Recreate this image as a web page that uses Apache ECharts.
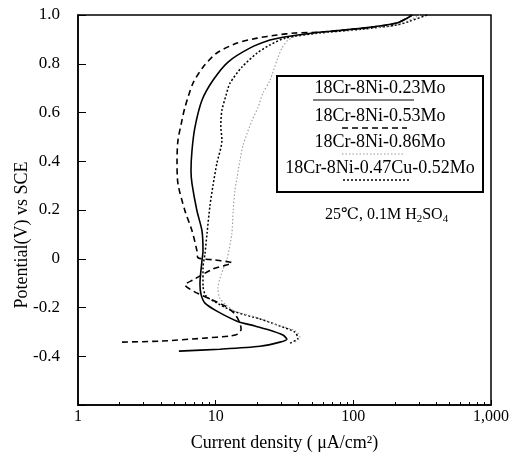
<!DOCTYPE html>
<html>
<head>
<meta charset="utf-8">
<script src="https://cdn.jsdelivr.net/npm/echarts@6/dist/echarts.min.js"></script>
<style>
  html, body { margin: 0; padding: 0; background: #fff; }
  #chart { width: 517px; height: 465px; }
</style>
</head>
<body>
<div id="chart"></div>
<script>
// Anodic polarization curves of 18Cr-8Ni stainless steels, 25℃, 0.1M H2SO4
const seriesNames = ['18Cr-8Ni-0.23Mo', '18Cr-8Ni-0.53Mo', '18Cr-8Ni-0.86Mo', '18Cr-8Ni-0.47Cu-0.52Mo'];

// current density (µA/cm²) and potential (V vs SCE), listed along the scan
const current023 = [5.41, 10.7, 21.0, 29.3, 32.9, 30.8, 26.1, 19.3, 14.3, 10.2, 8.36, 7.82, 7.69, 7.95, 8.09, 7.95, 7.31, 6.73, 6.62, 6.73, 7.07, 7.95, 9.56, 12.3, 17.7, 24.8, 30.8, 50.9, 117, 207, 241, 267];
const potential023 = [-0.379, -0.371, -0.359, -0.342, -0.330, -0.313, -0.297, -0.276, -0.256, -0.215, -0.182, -0.145, -0.103, -0.009, 0.032, 0.115, 0.197, 0.308, 0.362, 0.444, 0.539, 0.650, 0.732, 0.807, 0.864, 0.897, 0.909, 0.926, 0.946, 0.967, 0.984, 1.0];

const current053 = [2.09, 3.94, 8.09, 12.7, 14.5, 15.3, 15.0, 13.8, 11.7, 9.09, 6.84, 5.98, 6.84, 9.56, 13.1, 9.88, 7.44, 7.31, 6.73, 5.98, 5.32, 5.24, 5.32, 5.69, 5.98, 6.84, 8.09, 10.2, 14.3, 20.0, 27.9, 37.7, 57.2, 117, 207, 267];
const potential053 = [-0.342, -0.338, -0.326, -0.317, -0.309, -0.289, -0.264, -0.227, -0.194, -0.165, -0.132, -0.107, -0.087, -0.042, -0.017, -0.005, 0.004, 0.033, 0.115, 0.197, 0.308, 0.403, 0.485, 0.568, 0.621, 0.720, 0.786, 0.844, 0.885, 0.905, 0.918, 0.926, 0.930, 0.946, 0.967, 1.0];

const current086 = [37.7, 40.9, 38.3, 28.3, 19.3, 13.8, 11.9, 10.7, 10.4, 11.0, 12.1, 13.1, 13.4, 13.8, 14.3, 15.0, 15.8, 16.9, 18.4, 20.3, 22.0, 24.8, 27.9, 30.3, 33.5, 40.9, 67.6, 117, 207, 305];
const potential086 = [-0.342, -0.322, -0.297, -0.272, -0.239, -0.215, -0.190, -0.161, -0.120, -0.062, 0.000, 0.103, 0.197, 0.280, 0.333, 0.403, 0.465, 0.514, 0.568, 0.621, 0.679, 0.732, 0.815, 0.864, 0.897, 0.918, 0.930, 0.942, 0.959, 1.0];

const currentCu = [34.7, 39.6, 37.7, 29.3, 21.0, 13.4, 9.88, 8.51, 8.09, 8.09, 8.36, 8.65, 9.09, 9.56, 10.2, 11.1, 10.9, 11.1, 11.9, 12.7, 15.5, 20.0, 24.8, 31.9, 57.2, 117, 207, 258, 343];
const potentialCu = [-0.346, -0.326, -0.301, -0.276, -0.247, -0.215, -0.177, -0.153, -0.112, -0.037, 0.020, 0.103, 0.218, 0.300, 0.391, 0.485, 0.547, 0.609, 0.671, 0.720, 0.786, 0.844, 0.877, 0.905, 0.926, 0.942, 0.959, 0.975, 1.0];

const xTickValues = [1, 10, 100, 1000];
const xTickLabels = ['1', '10', '100', '1,000'];
const xMinorTicks = [2, 3, 4, 5, 6, 7, 8, 9, 20, 30, 40, 50, 60, 70, 80, 90, 200, 300, 400, 500, 600, 700, 800, 900];

const SERIF = '"Liberation Serif", "DejaVu Serif", serif';

const lineStyles = [
  { color: '#000', width: 1.6, type: 'solid' },
  { color: '#000', width: 1.6, type: [6, 4] },
  { color: '#9a9a9a', width: 1.1, type: [1.5, 2] },
  { color: '#000', width: 1.5, type: [2, 2] }
];

const curves = [
  [current023, potential023],
  [current053, potential053],
  [current086, potential086],
  [currentCu, potentialCu]
];

const zip = (xs, ys) => xs.map((x, i) => [x, ys[i]]);

const series = curves.map((c, i) => ({
  name: seriesNames[i],
  type: 'line',
  xAxisIndex: 0,
  yAxisIndex: 0,
  data: zip(c[0], c[1]),
  showSymbol: false,
  smooth: 0.25,
  lineStyle: lineStyles[i],
  z: 10 - i
}));

// legend box with each name over a sample of its line
const legendBox = { x: 277, y: 76, w: 206, h: 116 };
const legendGraphics = [{
  type: 'rect',
  shape: { x: legendBox.x, y: legendBox.y, width: legendBox.w, height: legendBox.h },
  style: { fill: '#fff', stroke: '#000', lineWidth: 2 },
  z: 50
}];
const rowText = [88, 116, 142, 168];
const rowLine = [100, 128, 154, 180];
const lineSpans = [[313, 414], [342, 407], [342, 405], [343, 410]];
seriesNames.forEach((n, i) => {
  legendGraphics.push({
    type: 'text',
    x: legendBox.x + legendBox.w / 2, y: rowText[i],
    style: { text: n, font: '18px ' + SERIF, fill: '#000', align: 'center', verticalAlign: 'middle' },
    z: 51
  });
  legendGraphics.push({
    type: 'line',
    shape: { x1: lineSpans[i][0], y1: rowLine[i], x2: lineSpans[i][1], y2: rowLine[i] },
    style: { stroke: lineStyles[i].color, lineWidth: i === 0 ? 1 : lineStyles[i].width, lineDash: lineStyles[i].type === 'solid' ? null : lineStyles[i].type },
    z: 51
  });
});

const chart = echarts.init(document.getElementById('chart'), null, { renderer: 'canvas' });
chart.setOption({
  backgroundColor: '#fff',
  animation: false,
  grid: { left: 78, right: 26, top: 15, bottom: 60, show: true, borderColor: '#000', borderWidth: 1.5, backgroundColor: 'transparent' },
  xAxis: [{
    type: 'log',
    logBase: 10,
    min: 1,
    max: 1000,
    name: 'Current density ( μA/cm²)',
    nameLocation: 'middle',
    nameGap: 29,
    nameTextStyle: { fontFamily: SERIF, fontSize: 18, color: '#000' },
    axisLine: { show: true, onZero: false, lineStyle: { color: '#000', width: 1.5 } },
    axisTick: { show: true, inside: true, length: 5, lineStyle: { color: '#000' } },
    axisLabel: {
      color: '#000', fontFamily: SERIF, fontSize: 16, margin: 4,
      formatter: v => { const k = xTickValues.findIndex(t => Math.abs(t - v) / t < 1e-6); return k >= 0 ? xTickLabels[k] : ''; }
    },
    splitLine: { show: false }
  }, {
    type: 'log',
    logBase: 10,
    min: 1,
    max: 1000,
    position: 'bottom',
    axisLine: { show: false, onZero: false },
    axisTick: { show: true, inside: true, length: 3, customValues: xMinorTicks, lineStyle: { color: '#000' } },
    axisLabel: { show: false },
    splitLine: { show: false }
  }],
  yAxis: {
    type: 'value',
    min: -0.6,
    max: 1.0,
    interval: 0.2,
    axisLine: { show: true, lineStyle: { color: '#000', width: 1.5 } },
    axisTick: { show: true, inside: true, length: 8, lineStyle: { color: '#000' } },
    axisLabel: {
      color: '#000', fontFamily: SERIF, fontSize: 17, margin: 18,
      formatter: v => {
        if (Math.abs(v + 0.6) < 1e-6) return '';
        if (Math.abs(v) < 1e-6) return '0';
        return v.toFixed(1);
      }
    },
    splitLine: { show: false }
  },
  series: series,
  graphic: legendGraphics.concat([{
    type: 'text',
    x: 22, y: 235,
    rotation: Math.PI / 2,
    style: { text: 'Potential(V) vs SCE', font: '18px ' + SERIF, fill: '#000', align: 'center', verticalAlign: 'middle' },
    z: 51
  }, {
    type: 'text',
    x: 325, y: 215,
    style: {
      text: '25℃, 0.1M H{s|2}SO{s|4}',
      font: '16px ' + SERIF,
      fill: '#000',
      verticalAlign: 'middle',
      rich: { s: { fontSize: 11, fontFamily: SERIF, padding: [9, 0, 0, 0] } }
    },
    z: 51
  }])
});
</script>
</body>
</html>
